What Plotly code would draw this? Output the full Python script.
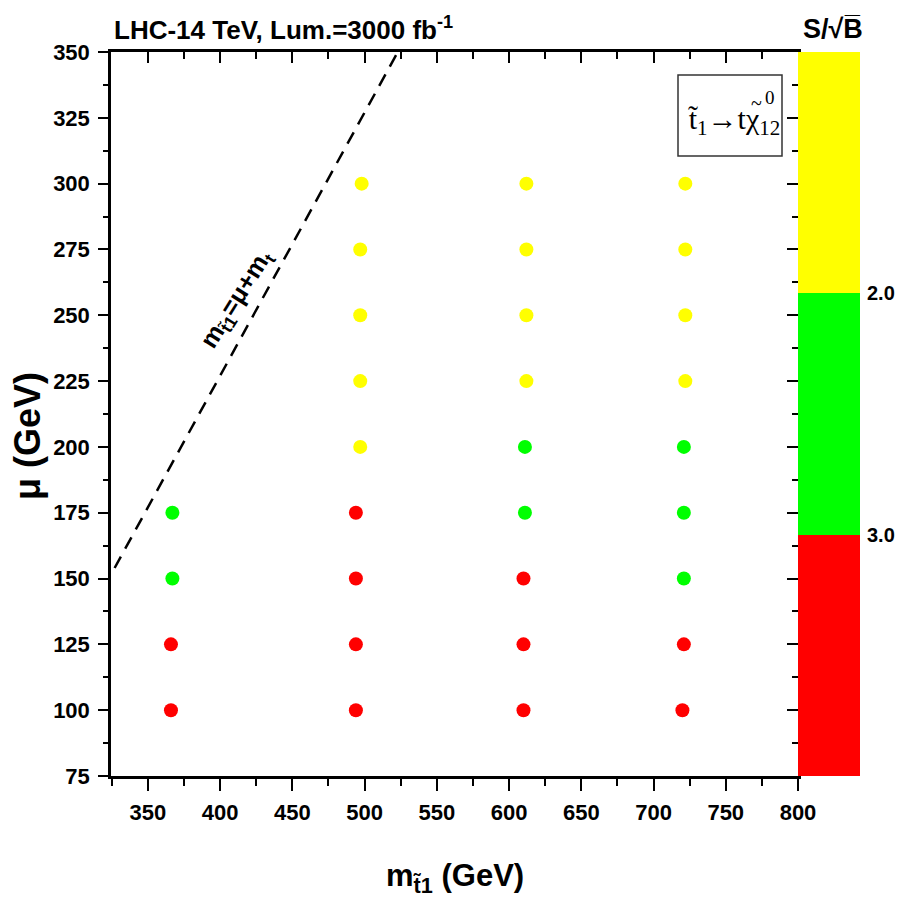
import plotly.graph_objects as go

# ---- data ----
m_stop = [366, 366, 367, 367,
          494, 494, 494, 494, 497, 497, 497, 497, 498,
          610, 610, 610, 611, 611, 612, 612, 612, 612,
          720, 721, 721, 721, 721, 722, 722, 722, 722]
mu = [100, 125, 150, 175,
      100, 125, 150, 175, 200, 225, 250, 275, 300,
      100, 125, 150, 175, 200, 225, 250, 275, 300,
      100, 125, 150, 175, 200, 225, 250, 275, 300]
sig_class = ["red", "red", "green", "green",
             "red", "red", "red", "red", "yellow", "yellow", "yellow", "yellow", "yellow",
             "red", "red", "red", "green", "green", "yellow", "yellow", "yellow", "yellow",
             "red", "red", "green", "green", "green", "yellow", "yellow", "yellow", "yellow"]

line_m = [327, 523]
line_mu = [154, 350]

cb_levels = [1.0, 2.0, 3.0, 4.0]
cb_colors = ["#FFFF00", "#00FF00", "#FF0000"]
cb_ticks = [2.0, 3.0]
cb_ticktext = ["2.0", "3.0"]

x_ticks = [350, 400, 450, 500, 550, 600, 650, 700, 750, 800]
y_ticks = [75, 100, 125, 150, 175, 200, 225, 250, 275, 300, 325, 350]

color_map = {"red": "#FF0000", "green": "#00FF00", "yellow": "#FFFF00"}

FONT = "Liberation Sans, Arial, sans-serif"
SERIF = "Liberation Serif, Times New Roman, serif"

fig = go.Figure()

fig.add_trace(go.Scatter(
    x=line_m, y=line_mu, mode="lines",
    line=dict(color="black", width=2.5, dash="13px,9px"),
    hoverinfo="skip", showlegend=False, xaxis="x", yaxis="y"))

fig.add_trace(go.Scatter(
    x=m_stop, y=mu, mode="markers",
    marker=dict(color=[color_map[c] for c in sig_class], size=14, symbol="circle",
                line=dict(width=0)),
    showlegend=False, xaxis="x", yaxis="y"))

# colour bar as bars
for i in range(3):
    fig.add_trace(go.Bar(
        x=["cb"], y=[cb_levels[i + 1] - cb_levels[i]], base=[cb_levels[i]],
        marker=dict(color=cb_colors[i], line=dict(width=0)), width=1,
        showlegend=False, hoverinfo="skip", xaxis="x2", yaxis="y2"))

xdom_end = 687 / 749

axis_font = dict(family=FONT, size=22, color="black", weight="bold")

fig.update_layout(
    width=897, height=917,
    margin=dict(l=111, r=37, t=52, b=141, autoexpand=False),
    paper_bgcolor="white", plot_bgcolor="white",
    barmode="overlay", bargap=0,
    xaxis=dict(domain=[0, xdom_end], range=[324.5, 800], tickvals=x_ticks,
               ticks="outside", ticklen=12, tickwidth=2, tickcolor="black",
               ticklabelstandoff=3, automargin=False,
               minor=dict(dtick=25, tick0=0, ticks="outside", ticklen=7, tickwidth=2, tickcolor="black"),
               showline=True, linecolor="black", linewidth=2.5, mirror=True,
               showgrid=False, zeroline=False, tickfont=axis_font),
    yaxis=dict(domain=[0, 1], range=[75, 350], tickvals=y_ticks,
               ticks="outside", ticklen=10, tickwidth=2, tickcolor="black",
               ticklabelstandoff=4, automargin=False,
               minor=dict(dtick=12.5, tick0=0, ticks="outside", ticklen=5, tickwidth=2, tickcolor="black"),
               showline=True, linecolor="black", linewidth=2.5, mirror=True,
               showgrid=False, zeroline=False, tickfont=axis_font),
    xaxis3=dict(overlaying="x", side="top", range=[324.5, 800], tickvals=x_ticks,
                ticks="inside", ticklen=11, tickwidth=2, tickcolor="black", showticklabels=False,
                minor=dict(dtick=25, tick0=0, ticks="inside", ticklen=7, tickwidth=2, tickcolor="black"),
                showgrid=False, zeroline=False, anchor="y", automargin=False),
    yaxis3=dict(overlaying="y", side="right", range=[75, 350], tickvals=y_ticks,
                ticks="inside", ticklen=11, tickwidth=2, tickcolor="black", showticklabels=False,
                minor=dict(dtick=12.5, tick0=0, ticks="inside", ticklen=6, tickwidth=2, tickcolor="black"),
                showgrid=False, zeroline=False, anchor="x", automargin=False),
    xaxis2=dict(domain=[xdom_end, 1], range=[-0.5, 0.5], showticklabels=False,
                showgrid=False, zeroline=False, showline=False, fixedrange=True, anchor="y2",
                automargin=False),
    yaxis2=dict(domain=[0, 1], range=[4.0, 1.0], side="right", anchor="x2",
                tickvals=cb_ticks, ticktext=cb_ticktext, ticks="", ticklabelstandoff=6,
                showgrid=False, zeroline=False, showline=False, automargin=False,
                tickfont=dict(family=FONT, size=20, color="black", weight="bold")),
)

# dummy traces so the overlay axes are drawn
fig.add_trace(go.Scatter(x=[None], y=[None], xaxis="x3", yaxis="y", showlegend=False, hoverinfo="skip"))
fig.add_trace(go.Scatter(x=[None], y=[None], xaxis="x", yaxis="y3", showlegend=False, hoverinfo="skip"))


def px(X):
    return (X - 111) / 749


def py(Y):
    return (776 - Y) / 724


ann = []
ann.append(dict(text="LHC-14 TeV, Lum.=3000 fb<sup>-1</sup>", xref="paper", yref="paper",
                x=px(112), y=py(29), xanchor="left", yanchor="middle", showarrow=False,
                font=dict(family=FONT, size=26, color="black", weight="bold")))
ann.append(dict(text="S/√B\u0305", xref="paper", yref="paper",
                x=px(833), y=py(29), xanchor="center", yanchor="middle", showarrow=False,
                font=dict(family=FONT, size=27, color="black", weight="bold")))
ann.append(dict(text="μ (GeV)", xref="paper", yref="paper",
                x=px(27), y=py(436), xanchor="center", yanchor="middle", textangle=-90,
                showarrow=False, font=dict(family=FONT, size=36, color="black", weight="bold")))
ann.append(dict(text="m<sub>t̃1</sub> (GeV)", xref="paper", yref="paper",
                x=px(455), y=py(878), xanchor="center", yanchor="middle",
                showarrow=False, font=dict(family=FONT, size=31, color="black", weight="bold")))
# decay label box
ann.append(dict(text="t̃<sub>1</sub>→tχ<sub>12</sub>", xref="paper", yref="paper",
                x=px(686), y=py(121), xanchor="left", yanchor="middle",
                showarrow=False,
                font=dict(family=SERIF, size=30, color="black")))
ann.append(dict(text="~", xref="paper", yref="paper",
                x=px(756), y=py(103), xanchor="center", yanchor="middle",
                showarrow=False,
                font=dict(family=SERIF, size=20, color="black")))
ann.append(dict(text="0", xref="paper", yref="paper",
                x=px(763), y=py(97), xanchor="left", yanchor="middle",
                showarrow=False,
                font=dict(family=SERIF, size=19, color="black")))
ann.append(dict(text="m<sub>t̃1</sub>=μ+m<sub>t</sub>", xref="x", yref="y",
                x=412, y=256, xanchor="center", yanchor="middle", textangle=-58,
                showarrow=False, font=dict(family=FONT, size=25, color="black", weight="bold")))
fig.update_layout(annotations=ann)

fig.add_shape(type="rect", xref="paper", yref="paper",
              x0=px(678), x1=px(782), y0=py(156), y1=py(75),
              line=dict(color="#333333", width=1.5), fillcolor="rgba(0,0,0,0)")

fig.write_html("out.html", config={"displayModeBar": False},
               post_script="document.body.style.margin='0px'; document.body.style.overflow='hidden';")
